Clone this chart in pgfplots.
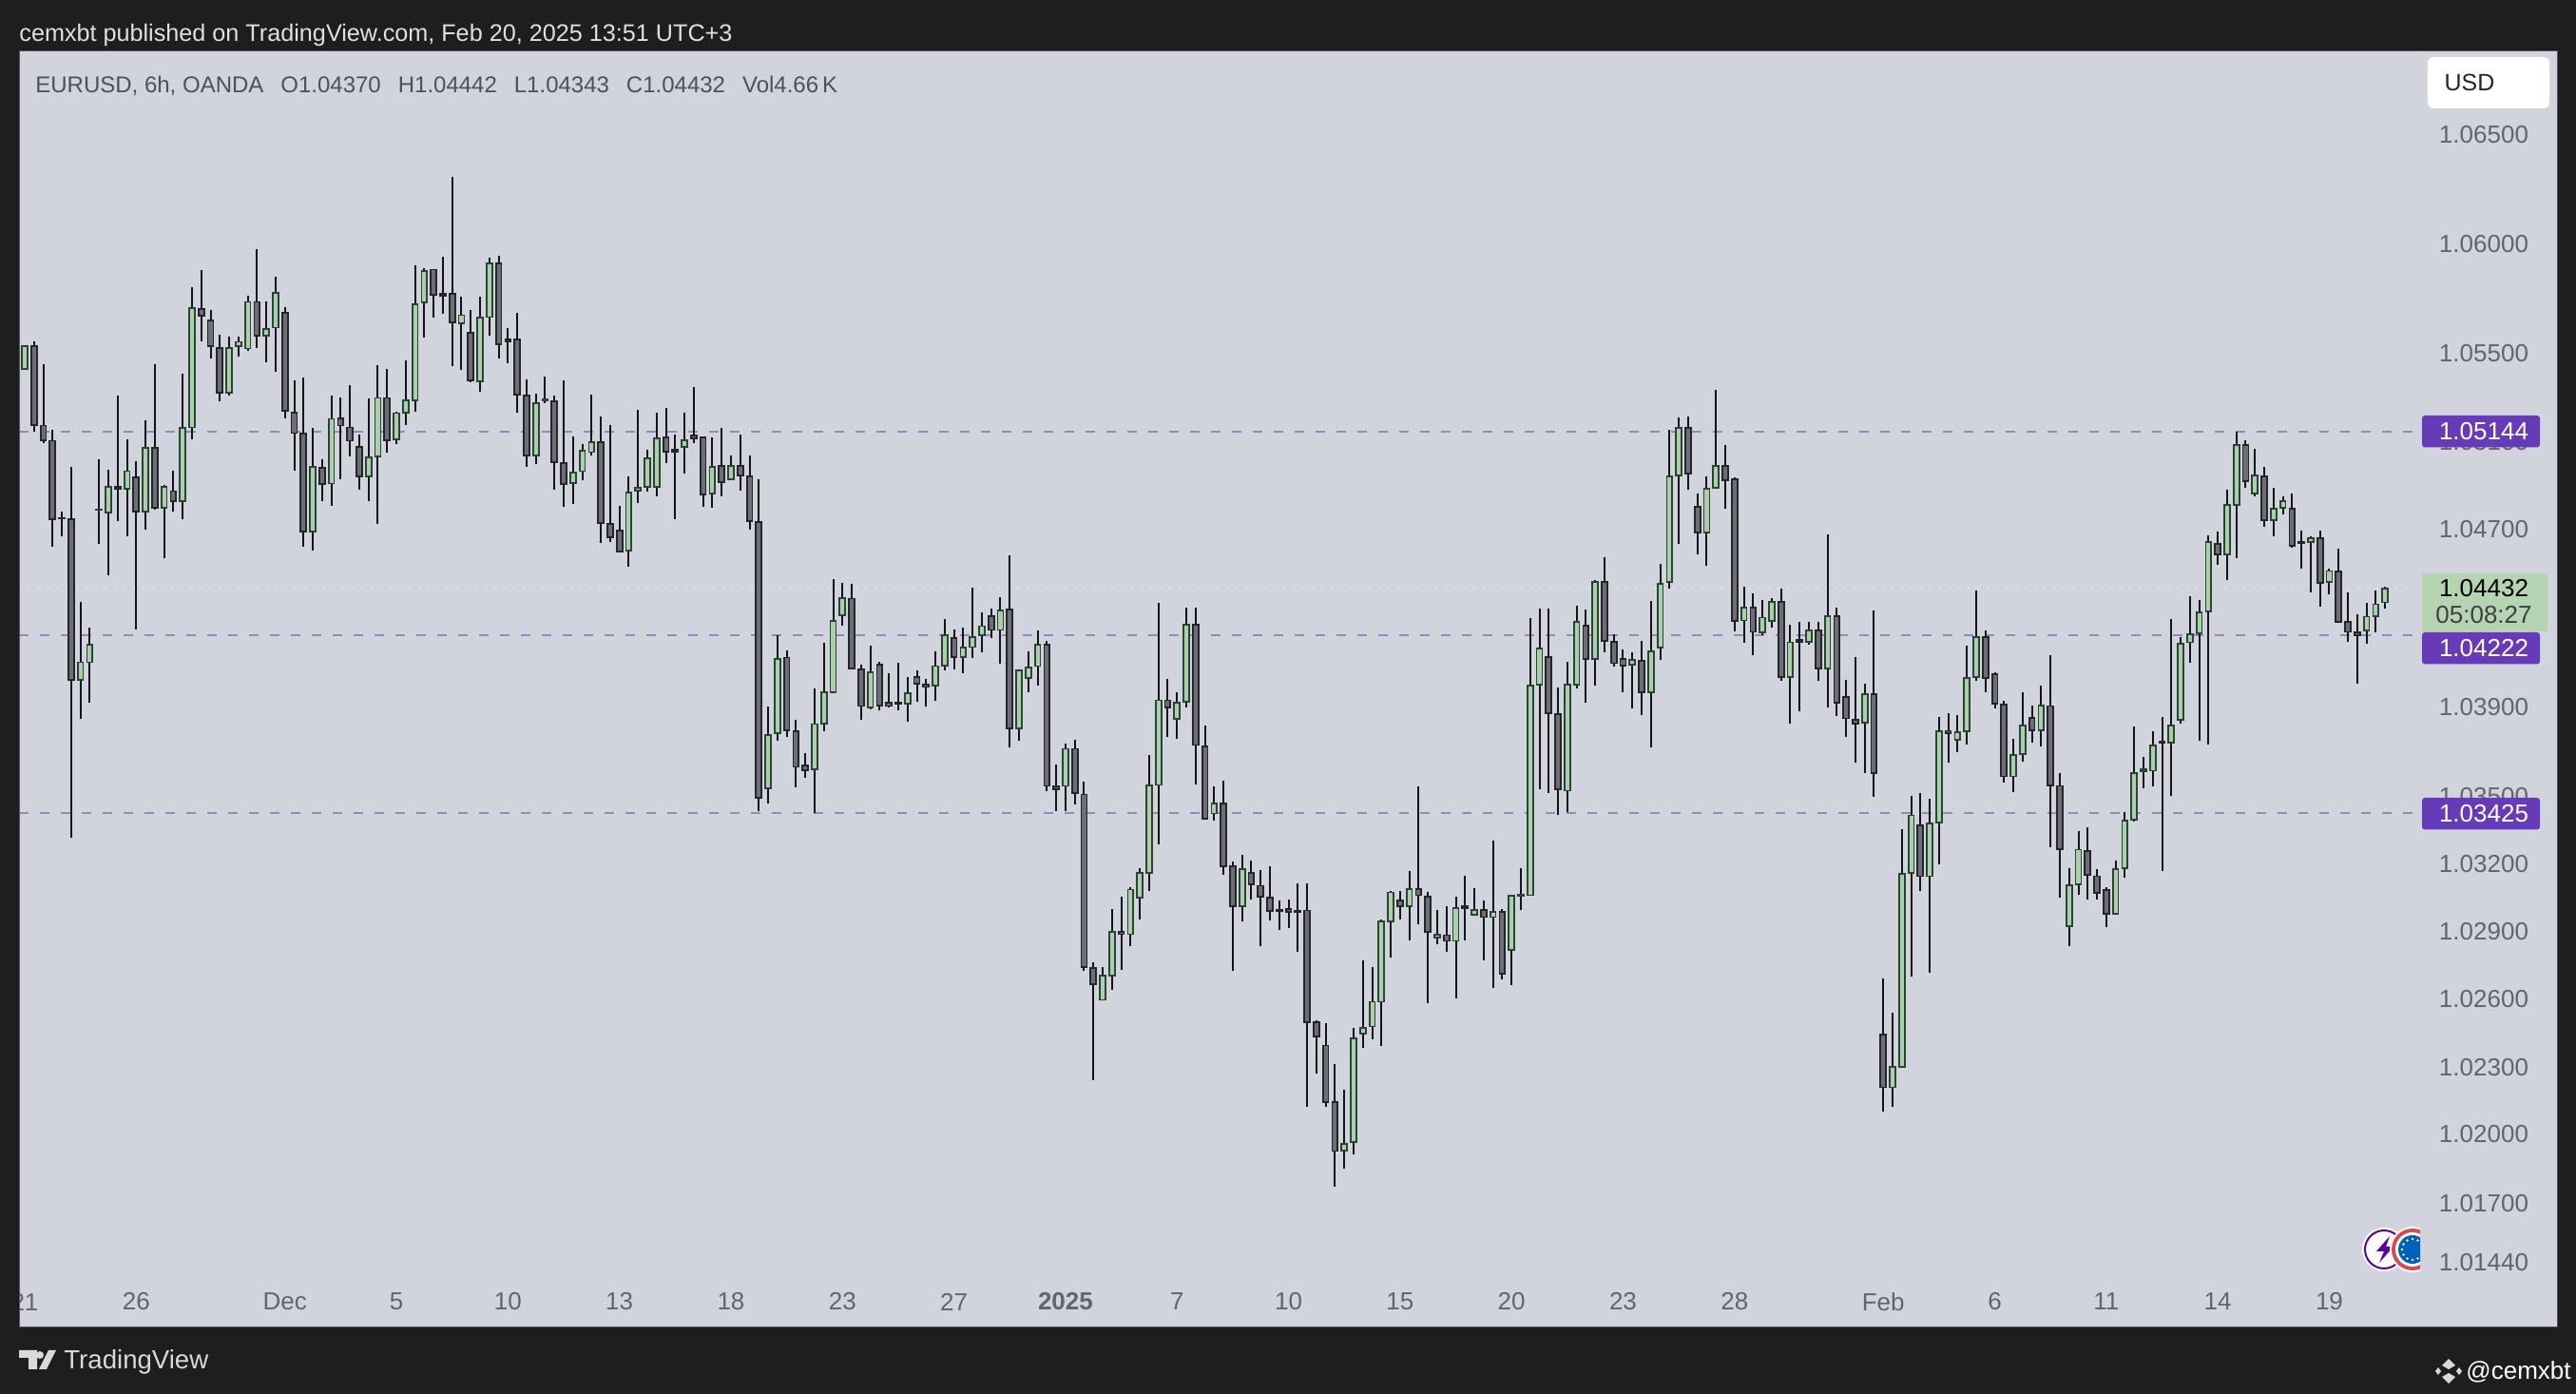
\documentclass[border=0pt]{standalone}
\usepackage{pgfplots}
\usepackage{pgfplotstable}
\usepackage{fontspec}
\pgfplotsset{compat=1.18}
\setmainfont{Liberation Sans}
\definecolor{frame}{HTML}{1E1E1E}
\definecolor{panel}{HTML}{D1D4DC}
\definecolor{upf}{HTML}{ABCFAB}
\definecolor{upb}{HTML}{2B4534}
\definecolor{dnf}{HTML}{6E6E76}
\definecolor{dnb}{HTML}{26262A}
\definecolor{wick}{HTML}{141418}
\definecolor{lvl}{HTML}{9389BC}
\definecolor{lab}{HTML}{673AB7}
\definecolor{grn}{HTML}{B4D4B2}
\definecolor{tick}{HTML}{62656E}
\pgfplotstableread{
i o h l c
1 1.05427 1.05535 1.05425 1.05533
2 1.05533 1.05553 1.05140 1.05173
3 1.05169 1.05450 1.05092 1.05103
4 1.05101 1.05148 1.04624 1.04747
5 1.04752 1.04779 1.04667 1.04748
6 1.04745 1.04983 1.03314 1.04020
7 1.04020 1.04374 1.03850 1.04101
8 1.04103 1.04255 1.03920 1.04181
9 1.04788 1.05016 1.04636 1.04790
10 1.04777 1.04971 1.04492 1.04893
11 1.04893 1.05305 1.04738 1.04884
12 1.04884 1.05109 1.04667 1.04963
13 1.04936 1.05010 1.04250 1.04781
14 1.04781 1.05195 1.04701 1.05070
15 1.05070 1.05450 1.04788 1.04796
16 1.04798 1.04903 1.04572 1.04891
17 1.04872 1.04967 1.04779 1.04829
18 1.04829 1.05406 1.04745 1.05160
19 1.05164 1.05800 1.05107 1.05705
20 1.05700 1.05879 1.05555 1.05669
21 1.05649 1.05698 1.05477 1.05529
22 1.05524 1.05582 1.05278 1.05319
23 1.05317 1.05574 1.05307 1.05522
24 1.05529 1.05574 1.05483 1.05549
25 1.05520 1.05760 1.05512 1.05735
26 1.05735 1.05974 1.05524 1.05580
27 1.05580 1.05735 1.05460 1.05609
28 1.05615 1.05847 1.05417 1.05775
29 1.05684 1.05707 1.05202 1.05237
30 1.05228 1.05375 1.04965 1.05138
31 1.05134 1.05386 1.04620 1.04691
32 1.04691 1.05158 1.04607 1.04983
33 1.04979 1.05016 1.04827 1.04905
34 1.04907 1.05309 1.04808 1.05200
35 1.05204 1.05299 1.04926 1.05169
36 1.05164 1.05355 1.05029 1.05101
37 1.05074 1.05130 1.04880 1.04940
38 1.04940 1.05295 1.04827 1.05027
39 1.05031 1.05444 1.04724 1.05295
40 1.05295 1.05427 1.05047 1.05105
41 1.05109 1.05233 1.05084 1.05226
42 1.05228 1.05466 1.05173 1.05286
43 1.05286 1.05899 1.05233 1.05723
44 1.05729 1.05889 1.05570 1.05874
45 1.05880 1.05883 1.05661 1.05767
46 1.05771 1.05941 1.05680 1.05760
47 1.05771 1.06305 1.05442 1.05638
48 1.05636 1.05754 1.05423 1.05671
49 1.05593 1.05696 1.05367 1.05375
50 1.05371 1.05754 1.05326 1.05661
51 1.05665 1.05933 1.05580 1.05910
52 1.05910 1.05945 1.05473 1.05541
53 1.05564 1.05615 1.05454 1.05553
54 1.05562 1.05682 1.05228 1.05311
55 1.05309 1.05380 1.04983 1.05039
56 1.05039 1.05313 1.04998 1.05272
57 1.05282 1.05396 1.05274 1.05288
58 1.05278 1.05305 1.04882 1.05004
59 1.05002 1.05375 1.04802 1.04905
60 1.04909 1.05121 1.04816 1.04959
61 1.04963 1.05086 1.04922 1.05053
62 1.05049 1.05311 1.05035 1.05097
63 1.05097 1.05212 1.04640 1.04730
64 1.04726 1.05173 1.04644 1.04665
65 1.04695 1.04806 1.04599 1.04601
66 1.04605 1.04940 1.04533 1.04868
67 1.04876 1.05243 1.04820 1.04888
68 1.04893 1.05062 1.04870 1.05022
69 1.04893 1.05228 1.04849 1.05113
70 1.05117 1.05251 1.05000 1.05051
71 1.05062 1.05130 1.04747 1.05051
72 1.05072 1.05228 1.04955 1.05105
73 1.05123 1.05346 1.05092 1.05113
74 1.05117 1.05119 1.04802 1.04858
75 1.04862 1.05117 1.04796 1.04983
76 1.04985 1.05160 1.04849 1.04915
77 1.04928 1.05039 1.04922 1.04985
78 1.04987 1.05130 1.04876 1.04944
79 1.04940 1.05035 1.04699 1.04738
80 1.04734 1.04928 1.03436 1.03495
81 1.03535 1.03903 1.03470 1.03777
82 1.03783 1.04224 1.03749 1.04118
83 1.04122 1.04154 1.03765 1.03797
84 1.03793 1.03844 1.03543 1.03631
85 1.03641 1.03692 1.03584 1.03619
86 1.03621 1.03985 1.03426 1.03824
87 1.03828 1.04189 1.03795 1.03965
88 1.03967 1.04476 1.03961 1.04287
89 1.04314 1.04460 1.04267 1.04392
90 1.04388 1.04456 1.04073 1.04075
91 1.04071 1.04093 1.03842 1.03907
92 1.03901 1.04177 1.03891 1.04058
93 1.04091 1.04101 1.03889 1.03905
94 1.03918 1.04052 1.03901 1.03907
95 1.03920 1.04099 1.03889 1.03914
96 1.03916 1.04038 1.03834 1.03961
97 1.04036 1.04064 1.03926 1.04007
98 1.04003 1.04026 1.03903 1.03991
99 1.03994 1.04150 1.03928 1.04083
100 1.04087 1.04295 1.04065 1.04224
101 1.04212 1.04249 1.04069 1.04126
102 1.04126 1.04257 1.04053 1.04165
103 1.04171 1.04437 1.04120 1.04216
104 1.04222 1.04326 1.04145 1.04263
105 1.04310 1.04343 1.04210 1.04247
106 1.04247 1.04394 1.04094 1.04336
107 1.04338 1.04584 1.03718 1.03802
108 1.03802 1.04067 1.03749 1.04065
109 1.04032 1.04149 1.03971 1.04079
110 1.04083 1.04247 1.03994 1.04181
111 1.04181 1.04198 1.03523 1.03548
112 1.03544 1.03645 1.03438 1.03531
113 1.03548 1.03737 1.03438 1.03714
114 1.03714 1.03755 1.03464 1.03517
115 1.03509 1.03568 1.02724 1.02738
116 1.02736 1.02760 1.02238 1.02664
117 1.02595 1.02742 1.02593 1.02702
118 1.02702 1.02997 1.02642 1.02897
119 1.02897 1.03055 1.02728 1.02887
120 1.02887 1.03096 1.02835 1.03084
121 1.03051 1.03181 1.02952 1.03161
122 1.03159 1.03688 1.03076 1.03550
123 1.03552 1.04369 1.03286 1.03930
124 1.03930 1.04028 1.03771 1.03902
125 1.03849 1.03971 1.03761 1.03922
126 1.03926 1.04345 1.03902 1.04271
127 1.04271 1.04345 1.03552 1.03730
128 1.03724 1.03816 1.03399 1.03403
129 1.03424 1.03548 1.03391 1.03470
130 1.03470 1.03572 1.03150 1.03191
131 1.03187 1.03211 1.02726 1.03013
132 1.03013 1.03239 1.02942 1.03179
133 1.03159 1.03213 1.03043 1.03106
134 1.03104 1.03173 1.02833 1.03055
135 1.03051 1.03187 1.02946 1.02988
136 1.02994 1.03035 1.02907 1.02990
137 1.03000 1.03043 1.02915 1.02984
138 1.02992 1.03114 1.02806 1.02984
139 1.02992 1.03114 1.02123 1.02498
140 1.02496 1.02506 1.02268 1.02436
141 1.02394 1.02494 1.02123 1.02145
142 1.02145 1.02310 1.01771 1.01929
143 1.01931 1.02201 1.01853 1.01959
144 1.01965 1.02470 1.01915 1.02424
145 1.02444 1.02773 1.02382 1.02474
146 1.02478 1.02742 1.02420 1.02589
147 1.02590 1.02952 1.02392 1.02944
148 1.02944 1.03079 1.02784 1.03073
149 1.03038 1.03079 1.02952 1.03012
150 1.03012 1.03168 1.02863 1.03089
151 1.03089 1.03546 1.02929 1.03059
152 1.03053 1.03075 1.02580 1.02897
153 1.02871 1.02996 1.02843 1.02883
154 1.02881 1.03012 1.02806 1.02857
155 1.02857 1.03055 1.02603 1.03002
156 1.03012 1.03148 1.02857 1.03002
157 1.02974 1.03093 1.02968 1.02996
158 1.02996 1.03036 1.02768 1.02962
159 1.02962 1.03304 1.02647 1.02984
160 1.02984 1.02998 1.02689 1.02711
161 1.02820 1.03061 1.02659 1.03057
162 1.03057 1.03183 1.02992 1.03063
163 1.03059 1.04300 1.03057 1.03997
164 1.04001 1.04343 1.03534 1.04164
165 1.04126 1.04343 1.03517 1.03873
166 1.03869 1.03988 1.03418 1.03534
167 1.03525 1.04103 1.03428 1.04001
168 1.04001 1.04357 1.03983 1.04283
169 1.04267 1.04339 1.03919 1.04117
170 1.04117 1.04470 1.03997 1.04466
171 1.04466 1.04575 1.04144 1.04197
172 1.04193 1.04226 1.04081 1.04097
173 1.04117 1.04158 1.03968 1.04087
174 1.04089 1.04144 1.03895 1.04113
175 1.04107 1.04199 1.03866 1.03970
176 1.03970 1.04378 1.03718 1.04150
177 1.04168 1.04544 1.04113 1.04456
178 1.04461 1.05150 1.04434 1.04941
179 1.04944 1.05207 1.04635 1.05161
180 1.05161 1.05215 1.04880 1.04953
181 1.04804 1.04862 1.04588 1.04685
182 1.04685 1.04940 1.04536 1.04885
183 1.04887 1.05332 1.04885 1.04990
184 1.04990 1.05078 1.04794 1.04923
185 1.04925 1.04938 1.04240 1.04286
186 1.04290 1.04441 1.04189 1.04349
187 1.04349 1.04412 1.04134 1.04239
188 1.04238 1.04383 1.04223 1.04302
189 1.04286 1.04389 1.04258 1.04371
190 1.04372 1.04436 1.04019 1.04036
191 1.04036 1.04269 1.03824 1.04189
192 1.04201 1.04285 1.03879 1.04193
193 1.04191 1.04285 1.04183 1.04244
194 1.04244 1.04285 1.04019 1.04074
195 1.04074 1.04678 1.03901 1.04310
196 1.04310 1.04345 1.03860 1.03919
197 1.03946 1.04024 1.03769 1.03850
198 1.03843 1.04126 1.03650 1.03828
199 1.03830 1.04007 1.03604 1.03959
200 1.03959 1.04337 1.03498 1.03606
201 1.02443 1.02693 1.02102 1.02209
202 1.02209 1.02537 1.02123 1.02299
203 1.02301 1.03355 1.02299 1.03156
204 1.03161 1.03500 1.02698 1.03418
205 1.03372 1.03515 1.03079 1.03144
206 1.03144 1.03491 1.02715 1.03381
207 1.03385 1.03856 1.03197 1.03793
208 1.03795 1.03873 1.03652 1.03784
209 1.03754 1.03865 1.03695 1.03789
210 1.03793 1.04176 1.03730 1.04030
211 1.04035 1.04425 1.04017 1.04217
212 1.04215 1.04245 1.03970 1.04030
213 1.04046 1.04054 1.03895 1.03917
214 1.03913 1.03930 1.03561 1.03589
215 1.03589 1.03761 1.03520 1.03687
216 1.03691 1.03967 1.03656 1.03821
217 1.03852 1.03908 1.03741 1.03797
218 1.03797 1.03996 1.03726 1.03908
219 1.03906 1.04133 1.03273 1.03550
220 1.03546 1.03606 1.03049 1.03266
221 1.02920 1.03180 1.02833 1.03105
222 1.03109 1.03346 1.03064 1.03262
223 1.03258 1.03363 1.03040 1.03150
224 1.03144 1.03176 1.03042 1.03068
225 1.03083 1.03094 1.02918 1.02978
226 1.02978 1.03212 1.02976 1.03174
227 1.03180 1.03431 1.03139 1.03392
228 1.03396 1.03815 1.03387 1.03604
229 1.03615 1.03674 1.03537 1.03622
230 1.03617 1.03795 1.03548 1.03728
231 1.03745 1.03856 1.03167 1.03739
232 1.03741 1.04295 1.03500 1.03817
233 1.03843 1.04213 1.03826 1.04185
234 1.04189 1.04398 1.04100 1.04228
235 1.04232 1.04381 1.03750 1.04326
236 1.04330 1.04672 1.03730 1.04644
237 1.04635 1.04690 1.04541 1.04587
238 1.04587 1.04880 1.04471 1.04810
239 1.04810 1.05144 1.04571 1.05083
240 1.05083 1.05102 1.04887 1.04917
241 1.04863 1.05065 1.04852 1.04944
242 1.04939 1.04983 1.04714 1.04742
243 1.04742 1.04889 1.04670 1.04793
244 1.04797 1.04852 1.04769 1.04830
245 1.04793 1.04863 1.04617 1.04626
246 1.04644 1.04694 1.04523 1.04639
247 1.04642 1.04668 1.04418 1.04661
248 1.04661 1.04696 1.04352 1.04458
249 1.04462 1.04523 1.04407 1.04512
250 1.04510 1.04613 1.04282 1.04285
251 1.04282 1.04414 1.04191 1.04241
252 1.04235 1.04319 1.04007 1.04224
253 1.04243 1.04370 1.04187 1.04308
254 1.04311 1.04423 1.04235 1.04363
255 1.04370 1.04442 1.04343 1.04432
}\candles
\begin{document}
\begin{tikzpicture}
\path[use as bounding box] (0,0) rectangle (1355pt,733pt);
\fill[frame] (0,0) rectangle (1355pt,733pt);
\begin{axis}[
  at={(10pt,35pt)},anchor=south west,
  scale only axis,width=1335pt,height=671.5pt,
  ymode=log,
  xmin=0.386,xmax=273.5,ymin=1.01157,ymax=1.06886,
  axis background/.style={fill=panel},
  axis line style={draw=none},
  major tick length=0pt,minor tick length=0pt,
  yminorticks=false,
  ytick={1.065,1.06,1.055,1.051,1.047,1.039,1.035,1.032,1.029,1.026,1.023,1.02,1.017,1.0144},
  yticklabels={1.06500,1.06000,1.05500,1.05100,1.04700,1.03900,1.03500,1.03200,1.02900,1.02600,1.02300,1.02000,1.01700,1.01440},
  yticklabel pos=right,
  y tick label style={anchor=center,xshift=-38.5pt,font=\fontsize{13}{13}\selectfont,text=tick},
  xtick={1,13,29,41,53,65,77,89,101,113,125,137,149,161,173,185,201,213,225,237,249},
  xticklabels={21,26,Dec,5,10,13,18,23,27,\textbf{2025},7,10,15,20,23,28,Feb,6,11,14,19},
  x tick label style={anchor=center,yshift=13.5pt,font=\fontsize{13}{13}\selectfont,text=tick},
  clip=true,
]
\addplot[draw=lvl,line width=0.75pt,dash pattern=on 5pt off 6pt] coordinates {(0.386,1.05144)(258,1.05144)};
\addplot[draw=lvl,line width=0.75pt,dash pattern=on 5pt off 6pt] coordinates {(0.386,1.04222)(258,1.04222)};
\addplot[draw=lvl,line width=0.75pt,dash pattern=on 5pt off 6pt] coordinates {(0.386,1.03425)(258,1.03425)};
\addplot[draw=white!30!panel,line width=0.6pt,dash pattern=on 1pt off 4pt] coordinates {(0.386,1.04432)(258,1.04432)};
\pgfplotsinvokeforeach{0,...,254}{%
  \pgfplotstablegetelem{#1}{i}\of\candles\edef\ci{\pgfplotsretval}%
  \pgfplotstablegetelem{#1}{o}\of\candles\edef\co{\pgfplotsretval}%
  \pgfplotstablegetelem{#1}{h}\of\candles\edef\ch{\pgfplotsretval}%
  \pgfplotstablegetelem{#1}{l}\of\candles\edef\cl{\pgfplotsretval}%
  \pgfplotstablegetelem{#1}{c}\of\candles\edef\cc{\pgfplotsretval}%
  \pgfmathsetmacro\xa{\ci-0.3}%
  \pgfmathsetmacro\xb{\ci+0.3}%
  \ifdim\co pt<\cc pt\def\bf{upf}\def\bd{upb}\else\def\bf{dnf}\def\bd{dnb}\fi
  \edef\temp{\noexpand\addplot[draw=wick,line width=1pt] coordinates {(\ci,\cl)(\ci,\ch)};
    \noexpand\addplot[draw=\bd,fill=\bf,line width=0.9pt] coordinates {(\xa,\co)(\xb,\co)(\xb,\cc)(\xa,\cc)} --cycle;}%
  \temp
}
\end{axis}
\begin{scope}[x=0.5pt,y=-0.5pt,shift={(0,-1466)}]
  % strips and frame
  \fill[frame] (0,53) rectangle (20,1396);
  \draw[color=black!60!panel,line width=0.5pt] (20,53.5) rectangle (2690,1396);
  % header
  \node[anchor=west,inner sep=0,text=white!88!black,font=\fontsize{12.6}{13}\selectfont] at (20,37) {cemxbt published on TradingView.com, Feb 20, 2025 13:51 UTC+3};
  \node[anchor=west,inner sep=0,text=tick!80!black,font=\fontsize{12}{13}\selectfont] at (37,90) {EURUSD, 6h, OANDA\hspace{9pt}O1.04370\hspace{9pt}H1.04442\hspace{9pt}L1.04343\hspace{9pt}C1.04432\hspace{9pt}Vol4.66\,K};
  % USD button
  \fill[white,rounded corners=3pt] (2554,60) rectangle (2682,114);
  \node[text=black!85,font=\fontsize{12.5}{13}\selectfont] at (2598,87) {USD};
  % price labels
  \fill[lab,rounded corners=1.5pt] (2548,437) rectangle (2672,470.4);
  \node[text=white,font=\fontsize{13}{13}\selectfont] at (2613,453.6) {1.05144};
  \fill[grn,rounded corners=1pt] (2548,603) rectangle (2680,664);
  \node[text=black,font=\fontsize{13}{13}\selectfont] at (2613,619) {1.04432};
  \node[text=black!75,font=\fontsize{13}{13}\selectfont] at (2613,647) {05:08:27};
  \fill[lab,rounded corners=1.5pt] (2548,665) rectangle (2672,698.5);
  \node[text=white,font=\fontsize{13}{13}\selectfont] at (2613,682) {1.04222};
  \fill[lab,rounded corners=1.5pt] (2548,839) rectangle (2672,872.5);
  \node[text=white,font=\fontsize{13}{13}\selectfont] at (2613,855.5) {1.03425};
  % event icons
  \fill[white] (2508,1314) circle (23);
  \draw[color=violet!70!blue,line width=1pt,fill=white!90!panel] (2508,1314) circle (20);
  \fill[violet!70!blue] (2514,1300)--(2500,1316)--(2508,1316)--(2503,1328)--(2518,1311)--(2510,1311)--cycle;
  \begin{scope}
    \clip (2480,1280) rectangle (2546,1345);
    \fill[white] (2538,1314) circle (24);
    \fill[red!60!panel!90!black] (2538,1314) circle (22);
    \fill[white!95!panel] (2538,1314) circle (18);
    \fill[blue!50!cyan!75!black] (2538,1314) circle (15);
    \foreach \a in {0,30,...,330}{\fill[yellow!60!white] (2538,1314) ++(\a:11) circle (1.4);}
  \end{scope}
  % logos
  \node[anchor=west,inner sep=0,text=white!85!black,font=\fontsize{13.8}{15}\selectfont] at (67,1432) {TradingView};
  \fill[white!85!black] (20,1420)--(39,1420)--(39,1440)--(30,1440)--(30,1428)--(20,1428)--cycle;
  \fill[white!85!black] (42,1425) circle (4);
  \fill[white!85!black] (51,1420)--(59,1420)--(49,1440)--(41,1440)--cycle;
  \node[anchor=west,inner sep=0,text=white,font=\fontsize{13}{14}\selectfont] at (2594,1443) {@cemxbt};
  \fill[white!85!black] (2576,1429)--(2583,1436)--(2576,1440)--(2569,1436)--cycle;
  \fill[white!85!black] (2565,1438)--(2568,1442)--(2565,1446)--(2562,1442)--cycle;
  \fill[white!85!black] (2587,1438)--(2590,1442)--(2587,1446)--(2584,1442)--cycle;
  \fill[white!85!black] (2569,1448)--(2576,1444)--(2583,1448)--(2576,1455)--cycle;
\end{scope}
\end{tikzpicture}
\end{document}
